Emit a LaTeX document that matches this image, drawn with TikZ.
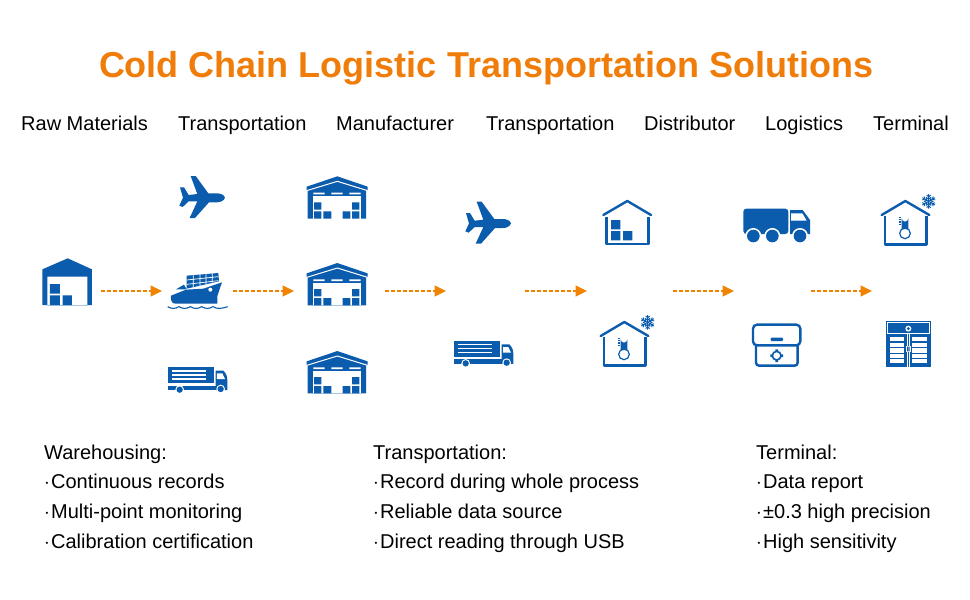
\documentclass[tikz,border=0pt]{standalone}
\usepackage{fontspec}
\setmainfont{Liberation Sans}
\usetikzlibrary{arrows.meta}
\definecolor{iconblue}{HTML}{0B5CAD}
\definecolor{flow}{HTML}{F08300}
\definecolor{titleorange}{HTML}{F07D0A}
\tikzset{
  z/.style 2 args={shift={(#1pt,-#2pt)},x=0.33333pt,y=-0.33333pt},
  bl/.style={draw=iconblue,line width=2.4pt,fill=none},
  flowline/.style={draw=flow,line width=1.2pt,dash pattern=on 3.6pt off 2.4pt,-{Triangle[length=11.5pt,width=11pt,fill=flow,sep=0pt]},shorten >=0pt},
  hdr/.style={anchor=base west,font=\fontsize{20}{24}\selectfont,inner sep=0pt,text=black},
  bodytxt/.style={anchor=base west,font=\fontsize{20}{24}\selectfont,inner sep=0pt,text=black},
  ttl/.style={anchor=base,font=\fontsize{36}{40}\selectfont\bfseries,inner sep=0pt,text=titleorange},
  plane/.pic={
    \fill[iconblue] (675,113) .. controls (672,103) and (660,100) .. (650,100) -- (625,100)
      -- (587,48) -- (572,48) -- (592,102) -- (566,105) -- (552,82) -- (540,82) -- (549,113)
      -- (538,137) -- (548,141) -- (566,124) -- (592,124) -- (569,174) -- (585,174) -- (627,127) -- (650,127)
      .. controls (660,127) and (672,123) .. (675,113) -- cycle;
  },
  ship/.pic={
    \fill[iconblue] (560,347) -- (655,339) -- (657,364) -- (560,386) -- cycle;
    \draw[white,line width=.7pt] (560,360)--(655,350) (560,373)--(655,362) (580,345)--(580,382) (600,343)--(600,378) (618,341)--(618,372) (637,340)--(637,368);
    \fill[iconblue] (528,388) -- (552,374) -- (560,388) -- cycle;
    \fill[iconblue] (666,367) -- (652,408) -- (652,431) -- (528,431) .. controls (518,431) and (513,425) .. (513,415)
      -- (513,407) -- (558,389) -- (610,386) -- cycle;
    \fill[white] (631,389) circle[radius=6];
    \draw[iconblue,line width=1.1pt] (503,440) .. controls (515,447) and (525,447) .. (537,440) .. controls (549,447) and (559,447) .. (571,440) .. controls (583,447) and (593,447) .. (605,440) .. controls (617,447) and (627,447) .. (639,440) .. controls (651,447) and (661,447) .. (683,440);
  },
  truckA/.pic={
    \fill[iconblue] (505,622) rectangle (642,670);
    \draw[white,line width=1.3pt] (515,633)--(618,633) (515,645)--(618,645) (515,657)--(618,657);
    \fill[iconblue] (505,677) rectangle (682,690);
    \fill[iconblue] (647,632) -- (670,632) .. controls (678,640) and (682,648) .. (682,660) -- (682,690) -- (647,690) -- cycle;
    \fill[white] (651,640) -- (667,640) -- (675,657) -- (651,657) -- cycle;
    \fill[white] (539,689) circle[radius=13] (662,687) circle[radius=13];
    \fill[iconblue] (539,689) circle[radius=9.5] (662,687) circle[radius=9.5];
  },
  simplewh/.pic={
    \fill[iconblue,even odd rule] (127,328) -- (203,295) -- (276,328) -- (276,435) -- (127,435) -- cycle
      (142,350) rectangle (262,436);
    \fill[iconblue] (150,372) rectangle (180,401) (150,406) rectangle (180,435) (188,406) rectangle (216,435);
  },
  fancywh/.pic={
    \fill[iconblue] (50,80) -- (142,49) -- (233,80) -- (233,92) -- (228,92) -- (228,176) -- (53,176) -- (53,92) -- (50,92) -- cycle;
    \draw[white,line width=1pt] (50,92) -- (142,64) -- (233,92);
    \fill[white] (70,108) rectangle (212,176);
    \fill[white] (70,98) rectangle (104,103) (124,98) rectangle (158,103) (178,98) rectangle (212,103);
    \fill[iconblue] (72,127) rectangle (94,149) (72,154) rectangle (94,176) (100,154) rectangle (124,176)
      (158,154) rectangle (181,176) (186,154) rectangle (208,176) (186,127) rectangle (208,149);
  },
  homebox/.pic={
    \draw[bl,line cap=round,line join=round] (70,105) -- (142,63) -- (213,105);
    \draw[bl,line join=round] (80,110) -- (80,192) -- (205,192) -- (205,110);
    \fill[iconblue] (93,120) rectangle (121,148) (93,153) rectangle (121,181) (129,153) rectangle (157,181);
  },
  coldhome/.pic={
    \draw[bl,line cap=round,line join=round] (62,468) -- (133,426) -- (205,468);
    \draw[bl,line join=round] (72,472) -- (72,557) -- (197,557) -- (197,472);
    \draw[iconblue,line width=1.2pt,fill=white] (132,523) circle[radius=16];
    \fill[iconblue] (122,510) -- (122,478) arc[start angle=180,end angle=0,radius=10] -- (142,510) -- cycle;
    \fill[white] (127,512) rectangle (137,522);
    \draw[iconblue,line width=.7pt] (113,476)--(121,476) (113,481)--(121,481) (113,486)--(121,486) (113,491)--(121,491) (113,496)--(121,496);
    \foreach \a in {0,60,...,300}{
      \draw[iconblue,line width=.9pt,shift={(203,427)},rotate=\a] (0,0) -- (0,22) (-6,19) -- (0,13) -- (6,19) (-7,12) -- (0,6) -- (7,12);
    }
  },
  truckC/.pic={
    \fill[iconblue,rounded corners=3pt] (490,162) -- (490,86) -- (625,86) -- (625,162) -- cycle;
    \fill[iconblue] (630,90) -- (668,90) -- (690,120) -- (690,162) -- (630,162) -- cycle;
    \fill[white] (633,100) -- (667,100) -- (680,122) -- (633,122) -- cycle;
    \fill[white] (520,168) circle[radius=24] (577,168) circle[radius=24] (660,168) circle[radius=24];
    \fill[iconblue] (520,168) circle[radius=19] (577,168) circle[radius=19] (660,168) circle[radius=19];
  },
  coolbox/.pic={
    \draw[bl,rounded corners=3pt] (528,496) -- (528,557) -- (653,557) -- (653,496);
    \draw[bl,rounded corners=4pt,fill=white] (519,434) rectangle (661,496);
    \fill[iconblue,rounded corners=1pt] (572,473) rectangle (609,483);
    \draw[iconblue,line width=1.6pt] (590,527) circle[radius=13];
    \fill[iconblue] (586,508) rectangle (594,514) (586,540) rectangle (594,546) (571,523) rectangle (577,531) (603,523) rectangle (609,531);
  },
  doorcab/.pic={
    \fill[iconblue] (258,423) rectangle (392,561);
    \draw[white,line width=1pt] (262,428) rectangle (388,461);
    \fill[white] (325,446) circle[radius=9];
    \fill[iconblue] (325,446) circle[radius=5];
    \foreach \y/\h in {470/13,488/12,505/13,522/13,538/10}{
      \fill[white] (269,\y) rectangle (313,\y+\h);
      \fill[white] (336,\y) rectangle (381,\y+\h);
    }
    \draw[white,line width=.8pt] (323,461) -- (323,561) (328,461) -- (328,561);
    \fill[white] (318,498) rectangle (332,516);
    \fill[iconblue] (321,500) rectangle (324,514) (326,500) rectangle (329,514);
  }
}
\begin{document}
\begin{tikzpicture}[x=1pt,y=-1pt]
\useasboundingbox[fill=white] (0,0) rectangle (970,600);

\node[ttl] (title) at (486,77) {Cold Chain Logistic Transportation Solutions};

\node[hdr] (h1) at (21,130) {Raw Materials};
\node[hdr] (h2) at (178,130) {Transportation};
\node[hdr] (h3) at (336,130) {Manufacturer};
\node[hdr] (h4) at (486,130) {Transportation};
\node[hdr] (h5) at (644,130) {Distributor};
\node[hdr] (h6) at (765,130) {Logistics};
\node[hdr] (h7) at (873,130) {Terminal};

% icons
\pic[z={0}{160}] {simplewh};
\pic[z={0}{160}] {plane};
\pic[z={0}{160}] {ship};
\pic[z={0}{160}] {truckA};
\pic[z={290}{160}] {fancywh};
\pic[z={290}{246.7}] {fancywh};
\pic[z={290}{334.7}] {fancywh};
\pic[z={286}{185.7}] {plane};
\pic[z={286}{133.7}] {truckA};
\pic[z={580}{180}] {homebox};
\pic[z={580}{180}] {coldhome};
\pic[z={861}{59}] {coldhome};
\pic[z={580}{180}] {truckC};
\pic[z={580}{180}] {coolbox};
\pic[z={800}{180}] {doorcab};

% connectors
\coordinate (a1) at (101,291); \coordinate (b1) at (162,291);
\coordinate (a2) at (233,291); \coordinate (b2) at (294,291);
\coordinate (a3) at (385,291); \coordinate (b3) at (446,291);
\coordinate (a4) at (525,291); \coordinate (b4) at (587,291);
\coordinate (a5) at (673,291); \coordinate (b5) at (734,291);
\coordinate (a6) at (811,291); \coordinate (b6) at (872,291);
\foreach \i in {1,...,6}{\draw[flowline] (a\i) -- (b\i);}

% lower text
\node[bodytxt] (w0) at (44,459) {Warehousing:};
\node[bodytxt] (w1) at (44,488) {$\cdot$\hspace{1.2pt}Continuous records};
\node[bodytxt] (w2) at (44,518) {$\cdot$\hspace{1.2pt}Multi-point monitoring};
\node[bodytxt] (w3) at (44,548) {$\cdot$\hspace{1.2pt}Calibration certification};
\node[bodytxt] (t0) at (373,459) {Transportation:};
\node[bodytxt] (t1) at (373,488) {$\cdot$\hspace{1.2pt}Record during whole process};
\node[bodytxt] (t2) at (373,518) {$\cdot$\hspace{1.2pt}Reliable data source};
\node[bodytxt] (t3) at (373,548) {$\cdot$\hspace{1.2pt}Direct reading through USB};
\node[bodytxt] (e0) at (756,459) {Terminal:};
\node[bodytxt] (e1) at (756,488) {$\cdot$\hspace{1.2pt}Data report};
\node[bodytxt] (e2) at (756,518) {$\cdot$\hspace{1.2pt}±0.3 high precision};
\node[bodytxt] (e3) at (756,548) {$\cdot$\hspace{1.2pt}High sensitivity};
\end{tikzpicture}
\end{document}
